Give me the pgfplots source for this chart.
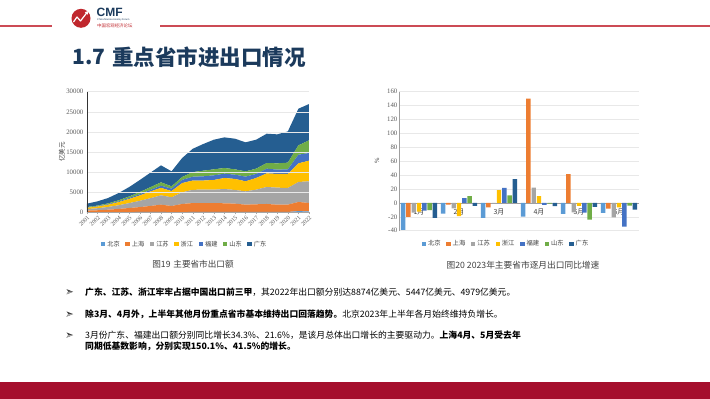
\documentclass[border=0pt]{standalone}
\usepackage{pgfplots}
\pgfplotsset{compat=1.18}
\usepackage{fontspec}
\setmainfont{Liberation Serif}
\newfontfamily\cjk{Noto Sans CJK SC}
\newfontfamily\sans{Liberation Sans}
\definecolor{bj}{HTML}{5B9BD5}
\definecolor{sh}{HTML}{ED7D31}
\definecolor{js}{HTML}{A5A5A5}
\definecolor{zj}{HTML}{FFC000}
\definecolor{fj}{HTML}{4472C4}
\definecolor{sd}{HTML}{70AD47}
\definecolor{gd}{HTML}{255E91}
\definecolor{navy}{HTML}{1B3A5C}
\definecolor{logored}{HTML}{C0272D}
\definecolor{linered}{HTML}{CC4B55}
\definecolor{barred}{HTML}{A50F2D}
\definecolor{txtgray}{HTML}{404040}
\definecolor{tickgray}{HTML}{595959}
\begin{document}
\begin{tikzpicture}
\path[use as bounding box] (0pt,0pt) rectangle (710pt,-399pt);
\fill[white] (0pt,0pt) rectangle (710pt,-399pt);
% header
\draw[linered, line width=1.3pt] (0pt,-26pt) -- (52pt,-26pt);
\draw[linered, line width=1.3pt] (160pt,-26pt) -- (710pt,-26pt);
\fill[logored] (81pt,-18.3pt) circle (9.5pt);
\draw[white, line width=1.2pt, line join=round] (73.5pt,-22pt) -- (77pt,-17pt) -- (80.5pt,-21pt) -- (87pt,-12.5pt);
\fill[white] (88.5pt,-11pt) -- (84.8pt,-12.2pt) -- (87.6pt,-14.6pt) -- cycle;
\node[anchor=west, inner sep=0pt, text=navy, font=\sans\bfseries\fontsize{12}{12}\selectfont] at (96.5pt,-12.6pt) {CMF};
\node[anchor=west, inner sep=0pt, text=navy, font=\sans\fontsize{2.5}{3}\selectfont] at (97pt,-20.3pt) {China Macroeconomy Forum};
\node[anchor=west, inner sep=0pt, text=logored, font=\cjk\fontsize{4.4}{5}\selectfont] at (97pt,-25.4pt) {中国宏观经济论坛};
% title
\node[anchor=west, inner sep=0pt, text=navy, font=\cjk\bfseries\fontsize{21}{21}\selectfont] at (72.5pt,-57pt) {1.7};
\node[anchor=west, inner sep=0pt, text=navy, font=\cjk\bfseries\fontsize{21.5}{21.5}\selectfont] at (112pt,-57pt) {重点省市进出口情况};

% ---------------- chart 1 ----------------
\begin{axis}[
  at={(87pt,-212.3pt)}, anchor=south west, scale only axis,
  width=222pt, height=120.6pt,
  xmin=2001, xmax=2022, ymin=0, ymax=30000,
  stack plots=y, area style,
  axis x line*=bottom, axis y line*=left,
  x axis line style={draw=gray!70}, y axis line style={draw=black!80, line width=0.8pt},
  xtick={2001,...,2022},
  xticklabel style={rotate=45, anchor=north east, font=\fontsize{6}{6}\selectfont, text=tickgray, inner sep=0.5pt},
  ytick={0,5000,...,30000},
  yticklabel style={font=\fontsize{6.8}{6.8}\selectfont, text=tickgray, inner sep=1.5pt},
  /pgf/number format/1000 sep={},
  /pgf/number format/assume math mode=true,
  scaled y ticks=false,
  ymajorgrids, grid style={gray!18, line width=0.5pt},
  tick align=outside, major tick length=2pt,
  xtick style={gray!70}, ytick style={draw=none},
  legend style={at={(0.44,-0.265)}, anchor=center, legend columns=7, draw=none,
     font=\cjk\fontsize{6.2}{6.2}\selectfont, text=txtgray, inner sep=0pt,
     /tikz/every even column/.append style={column sep=3.6pt}},
  legend cell align=left,
  legend image code/.code={\fill[#1] (0pt,-2.2pt) rectangle (4.4pt,2.2pt);},
]
\addplot[fill=bj, draw=none] coordinates {(2001,40)(2002,40)(2003,50)(2004,60)(2005,70)(2006,80)(2007,80)(2008,80)(2009,70)(2010,70)(2011,80)(2012,80)(2013,80)(2014,80)(2015,80)(2016,80)(2017,80)(2018,90)(2019,90)(2020,90)(2021,300)(2022,200)} \closedcycle;
\addplot[fill=sh, draw=none] coordinates {(2001,380)(2002,470)(2003,600)(2004,780)(2005,1000)(2006,1220)(2007,1500)(2008,1820)(2009,1500)(2010,2000)(2011,2220)(2012,2220)(2013,2220)(2014,2160)(2015,2070)(2016,1820)(2017,1910)(2018,1980)(2019,1810)(2020,1810)(2021,2270)(2022,2120)} \closedcycle;
\addplot[fill=js, draw=none] coordinates {(2001,380)(2002,500)(2003,680)(2004,920)(2005,1220)(2006,1560)(2007,1930)(2008,2330)(2009,2160)(2010,2900)(2011,3300)(2012,3330)(2013,3330)(2014,3560)(2015,3400)(2016,3320)(2017,3640)(2018,4230)(2019,4230)(2020,4150)(2021,4970)(2022,5390)} \closedcycle;
\addplot[fill=zj, draw=none] coordinates {(2001,320)(2002,420)(2003,560)(2004,780)(2005,1040)(2006,1340)(2007,1670)(2008,1850)(2009,1550)(2010,2300)(2011,2300)(2012,2270)(2013,2410)(2014,2730)(2015,2740)(2016,2490)(2017,2900)(2018,3390)(2019,3400)(2020,3480)(2021,4640)(2022,5130)} \closedcycle;
\addplot[fill=fj, draw=none] coordinates {(2001,80)(2002,100)(2003,130)(2004,180)(2005,240)(2006,320)(2007,390)(2008,550)(2009,600)(2010,800)(2011,950)(2012,1050)(2013,1160)(2014,1080)(2015,1070)(2016,1160)(2017,1000)(2018,1170)(2019,1080)(2020,1160)(2021,2150)(2022,1910)} \closedcycle;
\addplot[fill=sd, draw=none] coordinates {(2001,120)(2002,150)(2003,200)(2004,280)(2005,380)(2006,530)(2007,680)(2008,830)(2009,580)(2010,710)(2011,1150)(2012,1410)(2013,1490)(2014,1410)(2015,1330)(2016,1320)(2017,1330)(2018,1400)(2019,1570)(2020,1660)(2021,2320)(2022,3150)} \closedcycle;
\addplot[fill=gd, draw=none] coordinates {(2001,830)(2002,1050)(2003,1340)(2004,1800)(2005,2350)(2006,2990)(2007,3610)(2008,4220)(2009,3730)(2010,4720)(2011,5800)(2012,6630)(2013,7370)(2014,7620)(2015,7620)(2016,7210)(2017,7200)(2018,7290)(2019,7210)(2020,7780)(2021,9120)(2022,9030)} \closedcycle;
\legend{北京,上海,江苏,浙江,福建,山东,广东}
\end{axis}
\node[rotate=90, text=txtgray, font=\cjk\fontsize{6.5}{6.5}\selectfont] at (62pt,-152pt) {亿美元};
\node[text=txtgray, font=\cjk\fontsize{8.6}{8.6}\selectfont] at (193pt,-264pt) {图19\,\,主要省市出口额};

% ---------------- chart 2 ----------------
\begin{axis}[
  at={(399pt,-230.7pt)}, anchor=south west, scale only axis,
  width=240pt, height=139pt,
  xmin=0.5, xmax=6.5, ymin=-40, ymax=160,
  ybar=0.9pt, bar width=4.4pt,
  axis x line*=middle, axis y line*=left,
  hide obscured y ticks=false,
  x axis line style={draw=gray!75, line width=0.8pt},
  y axis line style={draw=gray!75, line width=0.8pt},
  xtick={1,...,6},
  xticklabels={1月,2月,3月,4月,5月,6月},
  xticklabel style={font=\cjk\fontsize{7}{7}\selectfont, text=txtgray, inner sep=1pt, yshift=-1pt},
  xtick style={draw=none},
  extra x ticks={1.5,2.5,3.5,4.5,5.5},
  extra x tick labels={},
  extra x tick style={tick style={draw=gray!75}, major tick length=2.5pt, tick align=outside, grid=none},
  ytick={-40,-20,...,160},
  yticklabel style={font=\fontsize{6.8}{6.8}\selectfont, text=tickgray, inner sep=1.5pt},
  /pgf/number format/assume math mode=true,
  ymajorgrids, grid style={gray!18, line width=0.5pt},
  ytick style={draw=none},
  legend style={at={(0.446,-0.096)}, anchor=center, legend columns=7, draw=none,
     font=\cjk\fontsize{6.3}{6.3}\selectfont, text=txtgray, inner sep=0pt,
     /tikz/every even column/.append style={column sep=3.6pt}},
  legend image code/.code={\fill[#1] (0pt,-2.2pt) rectangle (4.4pt,2.2pt);},
]
\addplot[fill=bj, draw=none] coordinates {(1,-38.7)(2,-15.5)(3,-21.6)(4,-19.7)(5,-15.9)(6,-14.4)};
\addplot[fill=sh, draw=none] coordinates {(1,-20.2)(2,-2.4)(3,-6.3)(4,150.1)(5,41.5)(6,-8.2)};
\addplot[fill=js, draw=none] coordinates {(1,-14)(2,-8)(3,-1)(4,22)(5,-13.5)(6,-21)};
\addplot[fill=zj, draw=none] coordinates {(1,-12.5)(2,-19)(3,18.3)(4,9.6)(5,-4.3)(6,-6.3)};
\addplot[fill=fj, draw=none] coordinates {(1,-11)(2,6.7)(3,21.6)(4,-2.9)(5,-14)(6,-34)};
\addplot[fill=sd, draw=none] coordinates {(1,-10.5)(2,9.6)(3,11)(4,-1)(5,-24)(6,-3.8)};
\addplot[fill=gd, draw=none] coordinates {(1,-21.5)(2,-4.3)(3,34.3)(4,-4.8)(5,-5.8)(6,-9.6)};
\legend{北京,上海,江苏,浙江,福建,山东,广东}
\end{axis}
\node[rotate=90, text=txtgray, font=\fontsize{6.5}{6.5}\selectfont] at (377pt,-161pt) {\%};
\node[text=txtgray, font=\cjk\fontsize{8.7}{8.7}\selectfont] at (523pt,-265pt) {图20 2023年主要省市逐月出口同比增速};

% ---------------- bullets ----------------
\foreach \yy in {291.7,314,335} {
  \fill[black!75] (66.5pt,-\yy pt+2.6pt) -- (73pt,-\yy pt) -- (66.5pt,-\yy pt-2.6pt) -- (68.3pt,-\yy pt) -- cycle;
  \fill[black!35] (66.5pt,-\yy pt-2.6pt) -- (73pt,-\yy pt) -- (68.3pt,-\yy pt) -- cycle;
}
\node[anchor=west, inner sep=0pt, font=\cjk\fontsize{8.8}{8.8}\selectfont] at (85pt,-291.7pt) {\textbf{广东、江苏、浙江牢牢占据中国出口前三甲}，其2022年出口额分别达8874亿美元、5447亿美元、4979亿美元。};
\node[anchor=west, inner sep=0pt, font=\cjk\fontsize{8.8}{8.8}\selectfont] at (85pt,-314pt) {\textbf{除3月、4月外，上半年其他月份重点省市基本维持出口回落趋势。}北京2023年上半年各月始终维持负增长。};
\node[anchor=west, inner sep=0pt, font=\cjk\fontsize{8.8}{8.8}\selectfont] at (85pt,-335pt) {3月份广东、福建出口额分别同比增长34.3\%、21.6\%，是该月总体出口增长的主要驱动力。\textbf{上海4月、5月受去年}};
\node[anchor=west, inner sep=0pt, font=\cjk\fontsize{8.8}{8.8}\selectfont] at (85pt,-346.8pt) {\textbf{同期低基数影响，分别实现150.1\%、41.5\%的增长。}};

% footer
\fill[barred] (0pt,-381.5pt) rectangle (710pt,-399pt);
\end{tikzpicture}
\end{document}
